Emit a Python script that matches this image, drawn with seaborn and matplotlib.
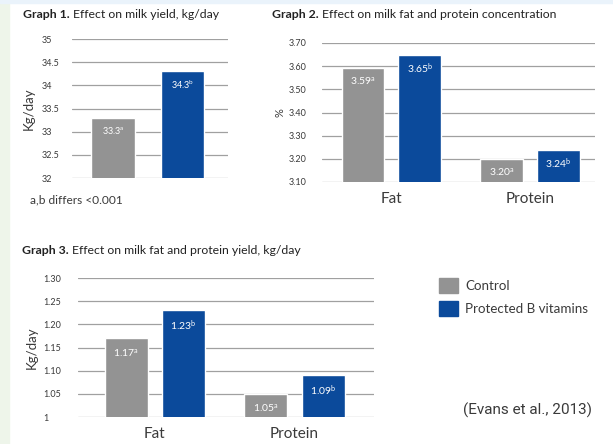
import pandas as pd
import matplotlib.pyplot as plt
import seaborn as sns
from matplotlib.patches import Patch, Rectangle

# data
g1_groups = ['Control', 'Protected B vitamins']
g1_values = [33.3, 34.3]
g1_sup = ['a', 'b']
g1_ticks = [32, 32.5, 33, 33.5, 34, 34.5, 35]
g1_ticklabels = ['32', '32.5', '33', '33.5', '34', '34.5', '35']

nutrients = ['Fat', 'Protein']
g2_control = [3.59, 3.20]
g2_vitamins = [3.65, 3.24]
g2_ticks = [3.10, 3.20, 3.30, 3.40, 3.50, 3.60, 3.70]
g2_ticklabels = ['3.10', '3.20', '3.30', '3.40', '3.50', '3.60', '3.70']

g3_control = [1.17, 1.05]
g3_vitamins = [1.23, 1.09]
g3_ticks = [1.00, 1.05, 1.10, 1.15, 1.20, 1.25, 1.30]
g3_ticklabels = ['1', '1.05', '1.10', '1.15', '1.20', '1.25', '1.30']

sup = ['a', 'b']  # control / vitamins

GREY = '#939393'
BLUE = '#0b4a9b'
TXT = '#3a3a3a'
GRID = '#a0a0a0'
palette = {'Control': GREY, 'Protected B vitamins': BLUE}

sns.set_theme(style="white")
plt.rcParams['font.family'] = ['Lato', 'DejaVu Sans']
plt.rcParams['mathtext.fontset'] = 'custom'
plt.rcParams['mathtext.rm'] = 'Lato'
plt.rcParams['mathtext.it'] = 'Lato'

W, H = 613, 444
fig = plt.figure(figsize=(W / 100, H / 100), dpi=100)
fig.patch.set_facecolor('white')
fig.patches.append(Rectangle((0, 0), 9 / W, 1, transform=fig.transFigure,
                             color='#eef5ea', zorder=0))
fig.patches.append(Rectangle((0, 1 - 3 / H), 1, 3 / H, transform=fig.transFigure,
                             color='#eaf3fb', zorder=0))


def px_axes(x0, x1, y_top, y_bot):
    return fig.add_axes([x0 / W, 1 - y_bot / H, (x1 - x0) / W, (y_bot - y_top) / H])


def style_axes(ax, ticks, ticklabels, pad):
    ax.set_ylim(ticks[0], ticks[-1])
    ax.set_yticks(ticks)
    ax.set_yticklabels(ticklabels, fontsize=6.5, color=TXT)
    for lab in ax.get_yticklabels():
        lab.set_horizontalalignment('left')
    ax.tick_params(axis='y', length=0, pad=pad)
    ax.grid(axis='y', color=GRID, linewidth=0.9)
    ax.set_axisbelow(True)
    sns.despine(ax=ax, left=True, bottom=True)
    ax.set_facecolor('none')


def label_bars(ax, texts, size, offset):
    for bar, txt in zip(ax.patches, texts):
        ax.annotate(txt, (bar.get_x() + bar.get_width() / 2, bar.get_height()),
                    xytext=(0, -offset), textcoords='offset points',
                    ha='center', va='top', color='white', fontsize=size)


def sup_label(v, s, fmt):
    return f'{v:{fmt}}' + r'$^{\mathregular{' + s + '}}$'


def title(x, y, num, rest):
    t1 = fig.text(x / W, 1 - y / H, f'Graph {num}.', fontsize=8.8,
                  fontweight='bold', color='#222222', va='center')
    fig.axes[0].annotate(rest, xy=(1, 0), xycoords=t1, xytext=(2.5, 0),
                         textcoords='offset points', fontsize=8.8,
                         color='#222222', va='bottom', ha='left',
                         annotation_clip=False)


# STEP 1: GRAPH 1 - milk yield
df1 = pd.DataFrame({'treatment': g1_groups, 'value': g1_values})
ax1 = px_axes(72, 228, 39, 178)
sns.barplot(data=df1, x='treatment', y='value', hue='treatment', palette=palette,
            width=0.63, legend=False, ax=ax1, saturation=1)
ax1.set_xlim(-0.59, 1.655)
style_axes(ax1, g1_ticks, g1_ticklabels, 21.5)
ax1.set_xticks([])
ax1.set_xlabel('')
ax1.set_ylabel('Kg/day', fontsize=9.5, color=TXT, labelpad=5.5)
label_bars(ax1, [sup_label(v, s, '') for v, s in zip(g1_values, g1_sup)], 6.5, 5)
fig.text(30 / W, 1 - 200 / H, 'a,b differs <0.001', fontsize=8.6, color=TXT, va='center')

# STEP 2: GRAPH 2 - fat and protein concentration
df2 = pd.DataFrame({'nutrient': nutrients * 2,
                    'treatment': ['Control'] * 2 + ['Protected B vitamins'] * 2,
                    'value': g2_control + g2_vitamins})
ax2 = px_axes(322, 595, 43, 182)
sns.barplot(data=df2, x='nutrient', y='value', hue='treatment', palette=palette,
            width=0.82, gap=0.25, legend=False, ax=ax2, saturation=1)
ax2.set_xlim(-0.5, 1.47)
style_axes(ax2, g2_ticks, g2_ticklabels, 24)
ax2.set_xlabel('')
ax2.set_ylabel('%', fontsize=8, color=TXT, labelpad=2)
ax2.tick_params(axis='x', length=0, pad=7, labelsize=11, labelcolor=TXT)
lab2 = [sup_label(v, sup[0], '.2f') for v in g2_control] + \
       [sup_label(v, sup[1], '.2f') for v in g2_vitamins]
label_bars(ax2, lab2, 7.5, 5)

# STEP 3: GRAPH 3 - fat and protein yield
df3 = pd.DataFrame({'nutrient': nutrients * 2,
                    'treatment': ['Control'] * 2 + ['Protected B vitamins'] * 2,
                    'value': g3_control + g3_vitamins})
ax3 = px_axes(78, 374, 278, 417)
sns.barplot(data=df3, x='nutrient', y='value', hue='treatment', palette=palette,
            width=0.82, gap=0.25, legend=False, ax=ax3, saturation=1)
ax3.set_xlim(-0.55, 1.57)
style_axes(ax3, g3_ticks, g3_ticklabels, 25)
ax3.set_xlabel('')
ax3.set_ylabel('Kg/day', fontsize=9.5, color=TXT, labelpad=4)
ax3.tick_params(axis='x', length=0, pad=7, labelsize=11, labelcolor=TXT)
lab3 = [sup_label(v, sup[0], '.2f') for v in g3_control] + \
       [sup_label(v, sup[1], '.2f') for v in g3_vitamins]
label_bars(ax3, lab3, 7.5, 6)

# STEP 4: TITLES, LEGEND, SOURCE
title(23, 14, 1, 'Effect on milk yield, kg/day')
title(272, 15, 2, 'Effect on milk fat and protein concentration')
title(22, 251, 3, 'Effect on milk fat and protein yield, kg/day')

handles = [Patch(color=palette[g]) for g in g1_groups]
fig.legend(handles, g1_groups, loc='upper left', bbox_to_anchor=(427 / W, 1 - 266 / H),
           frameon=False, fontsize=9.6, handlelength=1.4, handleheight=1.4,
           labelcolor=TXT, labelspacing=0.55, handletextpad=0.55)

fig.text(592 / W, 1 - 410 / H, '(Evans et al., 2013)', fontsize=11, color=TXT,
         ha='right', va='center', family='Roboto')

plt.savefig('out.png', dpi=100)
